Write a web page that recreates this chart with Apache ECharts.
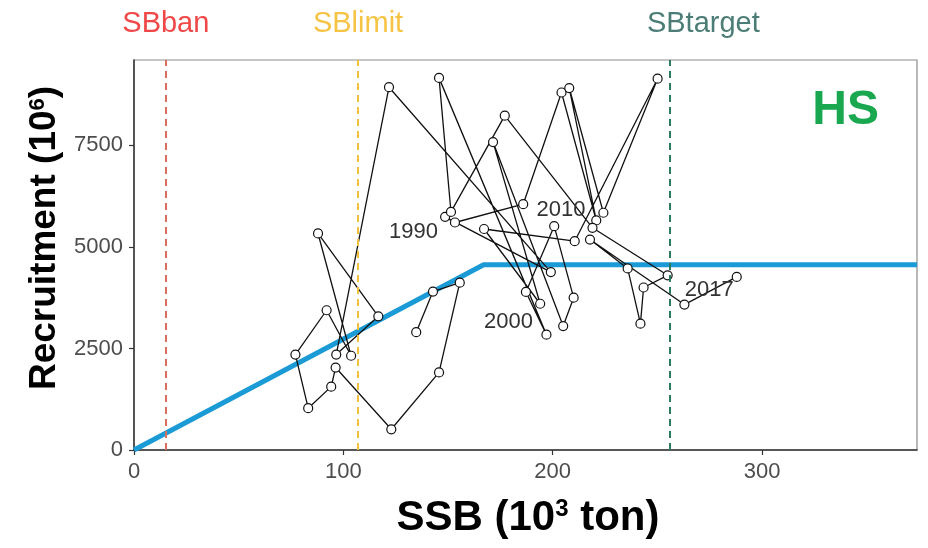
<!DOCTYPE html>
<html>
<head>
<meta charset="utf-8">
<script src="https://cdn.jsdelivr.net/npm/echarts@6/dist/echarts.min.js"></script>
<style>
  html, body { margin: 0; padding: 0; background: #ffffff; }
  #chart { width: 928px; height: 548px; }
</style>
</head>
<body>
<div id="chart"></div>
<script>
// Stock-recruitment trajectory, one point per year
const years = [
  1974, 1975, 1976, 1977, 1978, 1979, 1980, 1981, 1982, 1983,
  1984, 1985, 1986, 1987, 1988, 1989, 1990, 1991, 1992, 1993,
  1994, 1995, 1996, 1997, 1998, 1999, 2000, 2001, 2002, 2003,
  2004, 2005, 2006, 2007, 2008, 2009, 2010, 2011, 2012, 2013,
  2014, 2015, 2016, 2017
];
// Spawning stock biomass (10^3 ton)
const ssb = [
  134.8, 142.8, 155.6, 145.7, 122.9, 96.3, 94.2, 83.2, 77.1, 92.0,
  103.7, 87.9, 116.7, 96.6, 121.8, 199.1, 148.6, 153.3, 185.9, 204.2,
  220.8, 207.9, 224.2, 250.1, 210.5, 167.2, 194.0, 171.5, 205.0, 210.0,
  200.7, 187.2, 197.0, 145.7, 151.4, 177.1, 219.0, 254.9, 243.4, 241.9,
  235.8, 217.8, 262.9, 287.9
];
// Recruitment (10^6 fish)
const recruit = [
  2900, 3900, 4120, 1910, 510, 2030, 1560, 1030, 2350, 3440,
  2320, 5330, 3290, 2350, 8930, 4380, 5740, 5600, 6050, 8800,
  5650, 8910, 5840, 9140, 5140, 5440, 3600, 7580, 3050, 3750,
  5510, 3890, 2840, 9160, 5860, 8230, 5470, 4300, 4000, 3110,
  4470, 5180, 3580, 4260
];
// Years that carry a text label next to their point
const labelledYears = [1990, 2000, 2010, 2017];

// Hockey-stick (HS) relationship: breakpoint SSB and plateau recruitment
const hsBreakSSB = 167;
const hsPlateauR = 4560;

// Biological reference points (SSB, 10^3 ton)
const refNames = ['SBban', 'SBlimit', 'SBtarget'];
const refSSB = [15.2, 107.0, 255.7];

// Axis tick values
const xTicks = [0, 100, 200, 300];
const yTicks = [0, 2500, 5000, 7500];
const xMax = 374;
const yMax = 9600;

const FONT = '"Liberation Sans", Arial, Helvetica, sans-serif';
const SYMBOL = 9;

// pixel shift of each year label from the centre of its point
const labelShift = {
  1990: [-31, 16],
  2000: [-31, 19],
  2010: [-31, -17],
  2017: [-27, 14]
};

const trajectory = years.map((y, i) => {
  const item = { value: [ssb[i], recruit[i]], name: String(y) };
  if (labelledYears.includes(y)) {
    const s = labelShift[y];
    item.label = {
      show: true,
      formatter: String(y),
      position: [SYMBOL / 2 + s[0], SYMBOL / 2 + s[1]],
      align: 'center',
      verticalAlign: 'middle',
      fontSize: 22,
      color: '#333333',
      fontFamily: FONT
    };
  }
  return item;
});

const hsCurve = [[0, 0], [hsBreakSSB, hsPlateauR], [xMax, hsPlateauR]];

const refColors = {
  SBban:   { line: '#d9705f', text: '#f04848', pad: 0 },
  SBlimit: { line: '#f0c23c', text: '#f6c344', pad: 0 },
  SBtarget:{ line: '#2e7a5e', text: '#4b7d76', pad: 68 }
};

const refLines = refNames.map((n, i) => ({
  name: n,
  xAxis: refSSB[i],
  lineStyle: { color: refColors[n].line, type: [7, 5], width: 2 },
  label: {
    show: true,
    position: 'end',
    formatter: n,
    color: refColors[n].text,
    fontSize: 29,
    fontFamily: FONT,
    distance: 22,
    padding: [0, 0, 0, refColors[n].pad]
  }
}));

const plain = v => String(v);

const chart = echarts.init(document.getElementById('chart'), null, { renderer: 'canvas' });

chart.setOption({
  animation: false,
  backgroundColor: '#ffffff',
  grid: {
    left: 134, right: 11, top: 60, bottom: 98,
    show: true, borderColor: '#8c8c8c', borderWidth: 1.2, backgroundColor: 'transparent'
  },
  xAxis: {
    type: 'value', min: 0, max: xMax, interval: xTicks[1] - xTicks[0],
    axisLine: { show: true, lineStyle: { color: '#333333', width: 1.5 } },
    axisTick: { show: true, length: 5, customValues: xTicks, lineStyle: { color: '#333333', width: 1.2 } },
    axisLabel: {
      fontSize: 22, color: '#4d4d4d', fontFamily: FONT, margin: 11,
      customValues: xTicks, formatter: plain
    },
    splitLine: { show: false }
  },
  yAxis: {
    type: 'value', min: 0, max: yMax, interval: yTicks[1] - yTicks[0],
    axisLine: { show: true, lineStyle: { color: '#333333', width: 1.5 } },
    axisTick: { show: true, length: 5, customValues: yTicks, lineStyle: { color: '#333333', width: 1.2 } },
    axisLabel: {
      fontSize: 22, color: '#4d4d4d', fontFamily: FONT, margin: 11,
      customValues: yTicks, formatter: plain
    },
    splitLine: { show: false }
  },
  title: {
    text: 'HS',
    right: 44, top: 82,
    textStyle: { color: '#19a84f', fontSize: 48, fontWeight: 'bold', fontFamily: FONT }
  },
  graphic: [
    {
      type: 'text',
      x: 45, y: 238,
      rotation: Math.PI / 2,
      style: {
        text: '{b|Recruitment (10}{s|6}{b|)}',
        align: 'center', verticalAlign: 'middle',
        textAlign: 'center', textVerticalAlign: 'middle',
        fill: '#000000',
        rich: {
          b: { fontSize: 37, fontWeight: 'bold', fontFamily: FONT, fill: '#000', color: '#000' },
          s: { fontSize: 22, fontWeight: 'bold', fontFamily: FONT, fill: '#000', color: '#000', verticalAlign: 'top' }
        }
      }
    },
    {
      type: 'text',
      x: 528, y: 518,
      style: {
        text: '{b|SSB (10}{s|3}{b| ton)}',
        align: 'center', verticalAlign: 'middle',
        textAlign: 'center', textVerticalAlign: 'middle',
        fill: '#000000',
        rich: {
          b: { fontSize: 42, fontWeight: 'bold', fontFamily: FONT, fill: '#000', color: '#000' },
          s: { fontSize: 24, fontWeight: 'bold', fontFamily: FONT, fill: '#000', color: '#000', verticalAlign: 'top' }
        }
      }
    }
  ],
  series: [
    {
      name: 'HS',
      type: 'line',
      data: hsCurve,
      symbol: 'none',
      lineStyle: { color: '#1b9bd6', width: 5 },
      z: 2,
      silent: true,
      markLine: {
        silent: true,
        symbol: ['none', 'none'],
        animation: false,
        data: refLines
      }
    },
    {
      name: 'SR',
      type: 'line',
      data: trajectory,
      symbol: 'circle',
      symbolSize: SYMBOL,
      itemStyle: { color: '#ffffff', borderColor: '#111111', borderWidth: 1.2 },
      lineStyle: { color: '#111111', width: 1.3 },
      z: 3,
      labelLayout: { hideOverlap: false }
    }
  ]
});
</script>
</body>
</html>
